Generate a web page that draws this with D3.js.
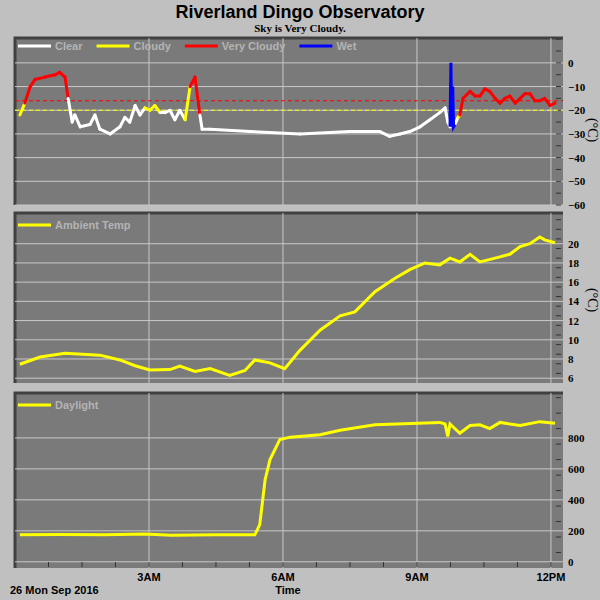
<!DOCTYPE html>
<html><head><meta charset="utf-8">
<script src="https://cdn.jsdelivr.net/npm/d3@7"></script>
<style>body{margin:0;background:#c0c0c0}</style>
</head><body><svg id="c" width="600" height="600"></svg>
<script>
// --- DATA (times in hours after midnight) ---
const skyTimes = [0.11,0.22,0.34,0.45,0.67,0.9,1.0,1.12,1.19,1.28,1.34,1.46,1.68,1.79,1.9,2.13,2.35,2.46,2.57,2.69,2.8,2.91,3.02,3.13,3.25,3.36,3.47,3.58,3.69,3.81,3.92,4.03,4.14,4.19,4.37,5.26,6.38,7.5,8.17,8.39,8.62,8.84,9.07,9.29,9.51,9.63,9.69,9.74];
const skyValues = [-22,-17,-10,-7,-6,-5,-4,-6,-15,-25,-22,-27,-26,-22,-28,-30,-27,-23,-25,-18,-22,-19,-20,-18,-21,-21,-20,-24,-20,-24,-10,-6,-22,-28,-28,-29,-30,-29,-29,-31,-30,-29,-27,-24,-21,-19,-25,-27];
const wetTimes = [9.74,9.76,9.78,9.8,9.82,9.85];
const wetValues = [-27,0,-27,-10,-27,-26];
const skyTimes2 = [9.85,9.92,9.96,10.03,10.19,10.3,10.41,10.52,10.63,10.75,10.86,10.97,11.08,11.2,11.31,11.42,11.53,11.64,11.75,11.86,11.98,12.09];
const skyValues2 = [-26,-23,-22,-15,-12,-14,-14,-11,-12,-15,-17,-15,-14,-17,-15,-13,-13,-16,-16,-15,-18,-17];
const skyStates2 = ["Clear","Cloudy","Very Cloudy","Very Cloudy","Very Cloudy","Very Cloudy","Very Cloudy","Very Cloudy","Very Cloudy","Very Cloudy","Very Cloudy","Very Cloudy","Very Cloudy","Very Cloudy","Very Cloudy","Very Cloudy","Very Cloudy","Very Cloudy","Very Cloudy","Very Cloudy","Very Cloudy"];
const thresholds = [-16, -20];

const tempTimes = [0.11,0.56,1.12,1.9,2.35,2.69,3.02,3.47,3.69,4.03,4.37,4.81,5.15,5.37,5.71,6.04,6.38,6.83,7.28,7.61,8.06,8.51,8.84,9.18,9.51,9.74,9.96,10.19,10.41,10.75,11.08,11.31,11.53,11.75,11.86,12.09];
const tempValues = [7.45,8.2,8.6,8.4,7.9,7.3,6.85,6.9,7.25,6.7,7.0,6.3,6.8,7.9,7.6,7.0,8.9,11.0,12.5,12.9,15.0,16.4,17.3,18.0,17.8,18.5,18.1,18.9,18.1,18.5,18.9,19.7,20.0,20.7,20.4,20.1];

const lightTimes = [0.11,1.0,2.0,2.9,3.5,4.5,5.37,5.48,5.6,5.71,5.93,6.16,6.83,7.28,8.06,9.51,9.63,9.69,9.74,9.96,10.19,10.41,10.63,10.86,11.31,11.75,12.09];
const lightValues = [174,176,174,180,172,174,174,240,530,660,790,805,820,850,885,900,890,810,890,830,880,885,860,900,880,905,895];

const hourTicks = [3,6,9,12];
const hourLabels = ["3AM","6AM","9AM","12PM"];
const stateColors = {"Clear": "white", "Cloudy": "yellow", "Very Cloudy": "red", "Wet": "#0000ff"};

// --- LAYOUT ---
const svg = d3.select("#c");
const x = d3.scaleLinear().domain([0, 12.27]).range([15, 563]);
const panels = [
  {top: 38, bottom: 205, domain: [-60, 10.5], ticks: d3.range(-60, 1, 10), unitY: 130},
  {top: 213, bottom: 383, domain: [5.5, 23.2], ticks: d3.range(6, 21, 2), unitY: 300},
  {top: 393, bottom: 568, domain: [-40, 1090], ticks: d3.range(0, 801, 200), unitY: null}
];

panels.forEach(p => {
  p.y = d3.scaleLinear().domain(p.domain).range([p.bottom, p.top]);
  svg.append("rect").attr("x", 15).attr("y", p.top).attr("width", 548).attr("height", p.bottom - p.top)
    .attr("fill", "#7a7a7a");
  svg.append("path").attr("d", `M15,${p.bottom}V${p.top}H563`).attr("stroke", "#404040").attr("stroke-width", 3).attr("fill", "none");
  // grid
  p.ticks.forEach(t => svg.append("line").attr("x1", 15).attr("x2", 563).attr("y1", p.y(t)).attr("y2", p.y(t))
    .attr("stroke", "#c8c8c8").attr("stroke-width", 1));
  hourTicks.forEach(h => svg.append("line").attr("x1", x(h)).attr("x2", x(h)).attr("y1", p.top).attr("y2", p.bottom)
    .attr("stroke", "#c8c8c8").attr("stroke-width", 1));
  // right axis
  const ax = svg.append("g").attr("transform", "translate(563,0)")
    .call(d3.axisRight(p.y).tickValues(p.ticks).tickSize(0).tickPadding(5));
  ax.select(".domain").remove();
  ax.selectAll("text").attr("font-family", "Liberation Serif").attr("font-weight", "bold").attr("font-size", 11).attr("fill", "#000");
  // minor ticks on the right edge
  const step = p.ticks[1] - p.ticks[0];
  d3.range(p.domain[0], p.domain[1], step / 2).filter(v => v >= p.ticks[0]).forEach(v =>
    svg.append("line").attr("x1", 556).attr("x2", 561).attr("y1", p.y(v)).attr("y2", p.y(v)).attr("stroke", "#333"));
  if (p.unitY) svg.append("text").attr("transform", `translate(588,${p.unitY}) rotate(90)`).attr("text-anchor", "middle")
    .attr("font-family", "Liberation Serif").attr("font-size", 14).text("(°C)");
});

// bottom minor ticks
d3.range(0.75, 12.27, 0.75).forEach(h => svg.append("line").attr("x1", x(h)).attr("x2", x(h))
  .attr("y1", 562).attr("y2", 567).attr("stroke", "#333"));

// --- SKY PANEL ---
const p0 = panels[0];
svg.append("line").attr("x1", 15).attr("x2", 563).attr("y1", p0.y(thresholds[0])).attr("y2", p0.y(thresholds[0]))
  .attr("stroke", "red").attr("stroke-dasharray", "4,3");
svg.append("line").attr("x1", 15).attr("x2", 563).attr("y1", p0.y(thresholds[1])).attr("y2", p0.y(thresholds[1]))
  .attr("stroke", "yellow").attr("stroke-dasharray", "4,3");

function skyColor(v) { return v > thresholds[0] ? "red" : v > thresholds[1] ? "yellow" : "white"; }
function drawSky(ts, vs, states) {
  for (let i = 0; i < ts.length - 1; i++) {
    const col = states ? stateColors[states[i]] : skyColor((vs[i] + vs[i + 1]) / 2);
    svg.append("line").attr("x1", x(ts[i])).attr("y1", p0.y(vs[i])).attr("x2", x(ts[i + 1])).attr("y2", p0.y(vs[i + 1]))
      .attr("stroke", col).attr("stroke-width", 3).attr("stroke-linecap", "round");
  }
}
drawSky(skyTimes, skyValues);
drawSky(skyTimes2, skyValues2, skyStates2);
svg.append("path").datum(wetTimes.map((t, i) => [t, wetValues[i]]))
  .attr("d", d3.line().x(d => x(d[0])).y(d => p0.y(d[1]))).attr("fill", "none").attr("stroke", "#0000ff").attr("stroke-width", 3);

// --- TEMP / LIGHT ---
const line = p => d3.line().x(d => x(d[0])).y(d => p.y(d[1]));
svg.append("path").datum(tempTimes.map((t, i) => [t, tempValues[i]])).attr("d", line(panels[1]))
  .attr("fill", "none").attr("stroke", "yellow").attr("stroke-width", 3);
svg.append("path").datum(lightTimes.map((t, i) => [t, lightValues[i]])).attr("d", line(panels[2]))
  .attr("fill", "none").attr("stroke", "yellow").attr("stroke-width", 3);

// --- LEGENDS ---
function legend(items, y) {
  let cx = 18;
  items.forEach(([label, col]) => {
    svg.append("line").attr("x1", cx).attr("x2", cx + 33).attr("y1", y).attr("y2", y).attr("stroke", col).attr("stroke-width", 3);
    const t = svg.append("text").attr("x", cx + 37).attr("y", y + 4).attr("font-family", "Liberation Sans")
      .attr("font-weight", "bold").attr("font-size", 11).attr("fill", "#b4b4b4").text(label);
    cx += 37 + t.node().getComputedTextLength() + 14;
  });
}
legend([["Clear", "white"], ["Cloudy", "yellow"], ["Very Cloudy", "red"], ["Wet", "#0000ff"]], 46);
legend([["Ambient Temp", "yellow"]], 225);
legend([["Daylight", "yellow"]], 405);

// --- TEXT ---
svg.append("text").attr("x", 300).attr("y", 18).attr("text-anchor", "middle").attr("font-family", "Liberation Sans")
  .attr("font-weight", "bold").attr("font-size", 18).text("Riverland Dingo Observatory");
svg.append("text").attr("x", 300).attr("y", 32).attr("text-anchor", "middle").attr("font-family", "Liberation Serif")
  .attr("font-weight", "bold").attr("font-size", 11).text("Sky is Very Cloudy.");
hourTicks.forEach((h, i) => svg.append("text").attr("x", x(h)).attr("y", 581).attr("text-anchor", "middle")
  .attr("font-family", "Liberation Sans").attr("font-weight", "bold").attr("font-size", 11).text(hourLabels[i]));
svg.append("text").attr("x", 10).attr("y", 594).attr("font-family", "Liberation Sans").attr("font-weight", "bold")
  .attr("font-size", 11).text("26 Mon Sep 2016");
svg.append("text").attr("x", 288).attr("y", 594).attr("text-anchor", "middle").attr("font-family", "Liberation Sans")
  .attr("font-weight", "bold").attr("font-size", 11).text("Time");
</script></body></html>
